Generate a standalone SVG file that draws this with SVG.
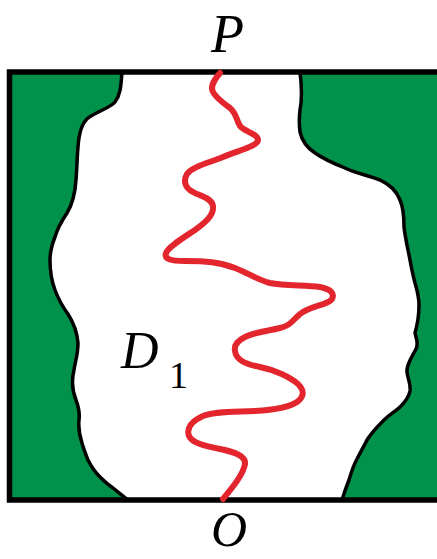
<svg xmlns="http://www.w3.org/2000/svg" width="437" height="559" viewBox="0 0 437 559">
<style>
text{font-family:"Liberation Serif","Times New Roman","DejaVu Serif",serif;fill:#000}
.it{font-style:italic}
</style>
<rect width="437" height="559" fill="#fff"/>
<g id="square">
<rect x="9.5" y="72" width="432" height="428" fill="#00914a"/>
</g>
<g id="region-D1">
<path d="M122,72 C121,84 121,94 115,102 C110,108 98,111 88,118 C82,123 79,132 78,147 C77,158 77,168 76,180 C75,195 72,205 67,213 C61,222 57,230 55,237 C51,247 50,252 50,260 C50,270 52,282 55,290 C58,298 62,306 68,314 C73,322 77,330 78,343 C78,355 75,362 74,370 C72,378 72,390 76,400 C79,408 80,413 79,420 C78,430 80,437 82,443 C84,450 86,455 88,460 C92,468 95,472 100,477 C105,482 110,486 113,488 C118,492 122,495 128,500 L342,500 C345,490 347,485 349,480 C351,473 353,466 357,459 C361,451 364,446 367,440 C372,432 378,426 384,420 C390,414 396,411 400,407 C406,401 409,397 410,391 C411,384 408,380 407,372 C406,365 412,357 416,349 C419,343 416,338 415,333 C417,326 419,318 419,305 C419,296 417,290 415,283 C412,272 411,265 409,255 C407,245 405,236 404,227 C404,215 403,207 400,200 C396,190 390,185 380,180 C367,175 355,173 345,168 C335,164 325,160 315,153 C306,147 302,141 300,132 C299,124 299,118 300,110 C302,100 302,88 300,72 Z" fill="#fff" stroke="#000" stroke-width="3.5" stroke-linejoin="round"/>
</g>
<g id="frame">
<rect x="9.5" y="72" width="432" height="428" fill="none" stroke="#000" stroke-width="5.5"/>
</g>
<g id="connectors">
<path d="M220,73 C214,80 210,86 213,92 C216,98 222,102 230,108 C237,114 236,120 240,126 C245,132 258,134 258,140 C258,146 240,150 223,157 C205,164 192,167 187,174 C183,181 185,188 193,192 C200,196 212,198 213,206 C214,215 206,222 195,230 C183,238 168,247 166,253 C164,259 170,261 185,261 C205,261 220,262 235,268 C250,274 258,280 270,283 C285,286 305,285 320,287 C330,289 335,293 332,299 C328,305 310,306 300,314 C293,320 290,326 280,328 C268,331 255,332 245,337 C237,341 234,346 235,351 C236,360 245,364 260,367 C275,370 290,377 298,384 C304,390 305,396 297,402 C288,408 272,410 255,411 C235,412 215,411 203,416 C192,421 186,428 189,436 C192,443 205,446 220,449 C235,452 246,456 245,464 C243,475 232,488 223,499" fill="none" stroke="#e3262e" stroke-width="6" stroke-linecap="round" stroke-linejoin="round"/>
</g>
<g id="labels">
<text class="it" x="211" y="52" font-size="54">P</text>
<text class="it" x="211" y="546" font-size="50">O</text>
<text class="it" x="121" y="368" font-size="52">D</text>
<text x="169" y="388" font-size="38">1</text>
</g>
</svg>
